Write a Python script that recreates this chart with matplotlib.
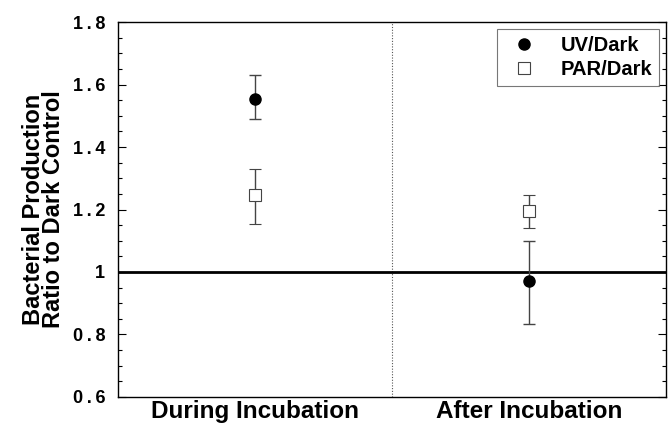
import matplotlib
matplotlib.use("Agg")
import matplotlib.pyplot as plt
from matplotlib.ticker import MultipleLocator
from matplotlib.lines import Line2D

plt.rcParams['font.family'] = ['Liberation Sans', 'DejaVu Sans']
plt.rcParams['font.weight'] = 'bold'

# data
periods = ['During Incubation', 'After Incubation']
uv_ratio = [1.555, 0.97]
uv_lo = [1.49, 0.835]
uv_hi = [1.63, 1.10]
par_ratio = [1.245, 1.195]
par_lo = [1.155, 1.14]
par_hi = [1.33, 1.245]
yticks = [0.6, 0.8, 1.0, 1.2, 1.4, 1.6, 1.8]
ytick_labels = ['0.6', '0.8', '1', '1.2', '1.4', '1.6', '1.8']

xpos = [0.5, 1.5]

fig = plt.figure(figsize=(6.69, 4.25), dpi=100)
ax = fig.add_axes([0.176, 0.066, 0.8195, 0.882])

uv_err = [[v - l for v, l in zip(uv_ratio, uv_lo)], [h - v for v, h in zip(uv_ratio, uv_hi)]]
par_err = [[v - l for v, l in zip(par_ratio, par_lo)], [h - v for v, h in zip(par_ratio, par_hi)]]

ax.errorbar(xpos, uv_ratio, yerr=uv_err, fmt='o', color='black', ms=8,
            ecolor='#444444', elinewidth=1, capsize=4, capthick=1, zorder=4)
ax.errorbar(xpos, par_ratio, yerr=par_err, fmt='s', mfc='white', mec='#444444', ms=8, mew=0.8,
            ecolor='#444444', elinewidth=1, capsize=4, capthick=1, zorder=3)

ax.axhline(1.0, color='black', lw=2, zorder=2)
ax.axvline(1.0, color='#555555', lw=0.8, ls=(0, (1, 1.5)), zorder=1)

ax.set_xlim(0, 2)
ax.set_ylim(0.6, 1.8)
ax.set_yticks(yticks)
# spaced-out digits like the original typesetting
ax.set_yticklabels([t.replace('.', '\u2009.\u2009') for t in ytick_labels])
ax.yaxis.set_minor_locator(MultipleLocator(0.05))
ax.tick_params(axis='y', which='both', direction='in', right=True, labelsize=13, width=0.8, pad=9)
ax.tick_params(axis='y', which='major', length=6)
ax.tick_params(axis='y', which='minor', length=3)
ax.set_xticks(xpos)
ax.set_xticklabels(periods, fontsize=17.5, fontweight='bold')
ax.tick_params(axis='x', length=0, pad=2)
for s in ax.spines.values():
    s.set_linewidth(1.0)

ax.set_ylabel('Bacterial Production\nRatio to Dark Control', fontsize=17, fontweight='bold',
              linespacing=0.82)
ax.yaxis.set_label_coords(-0.096, 0.5)

handles = [Line2D([], [], ls='none', marker='o', color='black', ms=8),
           Line2D([], [], ls='none', marker='s', mfc='white', mec='#444444', ms=8, mew=0.8)]
leg = ax.legend(handles, ['UV/Dark', 'PAR/Dark'], loc='upper right', frameon=True, fancybox=False,
                edgecolor='#555555', handletextpad=0.8, borderaxespad=0.35, labelspacing=0.25,
                borderpad=0.35, prop={'weight': 'bold', 'size': 14.5})
leg.get_frame().set_linewidth(0.8)

fig.savefig('out.png', dpi=100)
